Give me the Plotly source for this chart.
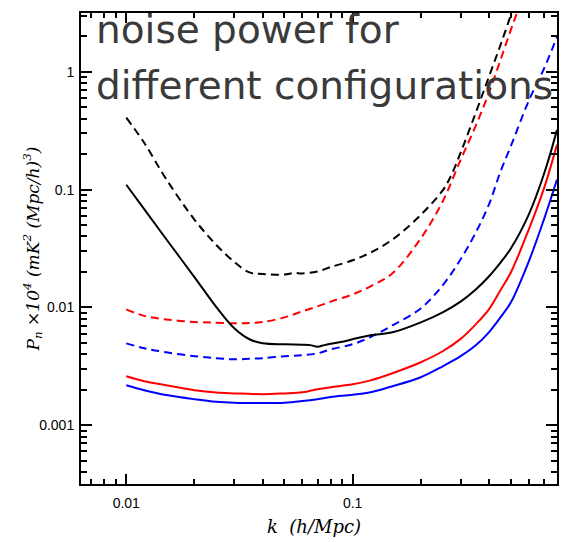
import plotly.graph_objects as go

# ---------------- data ----------------
k_grid = [0.01, 0.012, 0.015, 0.02, 0.025, 0.03, 0.035, 0.04, 0.05, 0.06, 0.07, 0.08,
          0.1, 0.12, 0.15, 0.2, 0.25, 0.3, 0.35, 0.4, 0.45, 0.5, 0.6, 0.7, 0.8]

k_black_dash = [0.01, 0.012, 0.015, 0.02, 0.025, 0.03, 0.035, 0.04, 0.05, 0.055, 0.06, 0.07, 0.08,
                0.1, 0.12, 0.15, 0.2, 0.25, 0.27, 0.3, 0.35, 0.4, 0.45, 0.5, 0.52]
p_black_dash = [0.408, 0.250, 0.123, 0.0557, 0.0339, 0.0243, 0.0198, 0.0192, 0.0190, 0.0196, 0.0194, 0.0202, 0.0220,
                0.0251, 0.0292, 0.0377, 0.0610, 0.0985, 0.127, 0.206, 0.45, 0.907, 1.69, 3.04, 3.9]

k_red_dash = [0.01, 0.012, 0.015, 0.02, 0.025, 0.03, 0.035, 0.04, 0.05, 0.06, 0.07, 0.08,
              0.1, 0.12, 0.15, 0.2, 0.25, 0.3, 0.35, 0.4, 0.45, 0.5, 0.53, 0.55]
p_red_dash = [0.00962, 0.00847, 0.0079, 0.00752, 0.0074, 0.00732, 0.00735, 0.0075, 0.00822, 0.00925, 0.0102, 0.0112,
              0.0129, 0.0151, 0.0195, 0.0385, 0.0794, 0.179, 0.349, 0.664, 1.26, 2.27, 3.1, 3.8]

k_blue_dash = k_grid
p_blue_dash = [0.00495, 0.0045, 0.00416, 0.00385, 0.0037, 0.00362, 0.00366, 0.0037, 0.00385, 0.00392, 0.00407, 0.0044,
               0.00486, 0.0056, 0.00704, 0.0098, 0.0154, 0.0256, 0.0432, 0.0746, 0.142, 0.234, 0.568, 1.06, 1.98]

k_black = [0.01, 0.012, 0.015, 0.02, 0.025, 0.03, 0.035, 0.04, 0.05, 0.06, 0.065, 0.07, 0.075, 0.08, 0.09,
           0.1, 0.12, 0.15, 0.2, 0.25, 0.3, 0.35, 0.4, 0.45, 0.5, 0.6, 0.7, 0.8]
p_black = [0.110, 0.0684, 0.0381, 0.0181, 0.01006, 0.00664, 0.00536, 0.00496, 0.00486, 0.00482, 0.00478, 0.00463,
           0.00478, 0.0049, 0.0051, 0.00536, 0.0058, 0.00614, 0.00746, 0.00908, 0.0112, 0.0142, 0.0183, 0.0240,
           0.0316, 0.0614, 0.135, 0.322]

k_red = [0.01, 0.012, 0.015, 0.02, 0.025, 0.03, 0.04, 0.05, 0.06, 0.07, 0.08,
         0.1, 0.12, 0.15, 0.2, 0.25, 0.3, 0.35, 0.4, 0.45, 0.5, 0.6, 0.7, 0.8]
p_red = [0.0026, 0.00236, 0.00218, 0.00198, 0.00189, 0.00186, 0.00183, 0.00186, 0.0019, 0.00202, 0.0021,
         0.00222, 0.0024, 0.00276, 0.00342, 0.00424, 0.0054, 0.00718, 0.00962, 0.0140, 0.0198, 0.0458, 0.102, 0.241]

k_blue = k_red
p_blue = [0.00218, 0.00198, 0.0018, 0.00166, 0.00158, 0.00155, 0.00154, 0.00155, 0.0016, 0.00166, 0.00173,
          0.00181, 0.0019, 0.00214, 0.00255, 0.00316, 0.00385, 0.00476, 0.00614, 0.00822, 0.0110, 0.0245, 0.0557, 0.122]

x_tickvals = [0.01, 0.1]
x_ticktext = ["0.01", "0.1"]
y_tickvals = [0.001, 0.01, 0.1, 1]
y_ticktext = ["0.001", "0.01", "0.1", "1"]

title_lines = ["noise power for", "different configurations"]
x_title = "<i>k  (h/Mpc)</i>"
y_title = "<i>P<sub>n</sub> ×10<sup>4</sup> (mK<sup>2</sup> (Mpc/h)<sup>3</sup>)</i>"

# ---------------- styling ----------------
DASH = "8px,5px"
series = [
    (k_black_dash, p_black_dash, "black", DASH),
    (k_red_dash, p_red_dash, "#ff0000", DASH),
    (k_blue_dash, p_blue_dash, "#0000ff", DASH),
    (k_black, p_black, "black", "solid"),
    (k_red, p_red, "#ff0000", "solid"),
    (k_blue, p_blue, "#0000ff", "solid"),
]

X_RANGE = [-2.2, -0.097]
Y_RANGE = [-3.5, 0.5]

def minor_vals(lo_exp, hi_exp):
    vals = []
    for e in range(lo_exp, hi_exp + 1):
        for m in range(2, 10):
            vals.append(m * 10.0 ** e)
    return vals

x_minor = [v for v in minor_vals(-3, 0) if 10 ** X_RANGE[0] <= v <= 10 ** X_RANGE[1]]
y_minor = [v for v in minor_vals(-4, 0) if 10 ** Y_RANGE[0] <= v <= 10 ** Y_RANGE[1]]

fig = go.Figure()
for kx, py, col, dash in series:
    fig.add_trace(go.Scatter(x=kx, y=py, mode="lines",
                             line=dict(color=col, width=2, dash=dash, shape="spline", smoothing=1.0),
                             showlegend=False, hoverinfo="skip"))

TICKFONT = dict(family="Liberation Sans, Arial, sans-serif", size=14, color="black")

layout_axes = dict(
    xaxis=dict(type="log", range=X_RANGE, tickmode="array", tickvals=x_tickvals, ticktext=x_ticktext,
               showgrid=False, zeroline=False, showline=True, linecolor="black", linewidth=2, mirror=True,
               ticks="", tickfont=TICKFONT, ticklabelstandoff=5),
    yaxis=dict(type="log", range=Y_RANGE, tickmode="array", tickvals=y_tickvals, ticktext=y_ticktext,
               showgrid=False, zeroline=False, showline=True, linecolor="black", linewidth=2, mirror=True,
               ticks="", tickfont=TICKFONT, ticklabelstandoff=2),
)

# tick-only overlay axes: (index, side_x, side_y, x ticks, y ticks, x len, y len)
overlays = [
    (2, "bottom", "left", x_tickvals, y_tickvals, 10, 11),
    (3, "bottom", "left", x_minor, y_minor, 5, 6),
    (4, "top", "right", x_tickvals, y_tickvals, 10, 11),
    (5, "top", "right", x_minor, y_minor, 5, 6),
]
for idx, sx, sy, xt, yt, xl, yl in overlays:
    layout_axes[f"xaxis{idx}"] = dict(type="log", range=X_RANGE, overlaying="x", anchor=f"y{idx}", side=sx,
                                     tickmode="array", tickvals=xt, showticklabels=False, ticks="inside",
                                     ticklen=xl, tickwidth=1.5, tickcolor="black", showline=False,
                                     showgrid=False, zeroline=False)
    layout_axes[f"yaxis{idx}"] = dict(type="log", range=Y_RANGE, overlaying="y", anchor=f"x{idx}", side=sy,
                                     tickmode="array", tickvals=yt, showticklabels=False, ticks="inside",
                                     ticklen=yl, tickwidth=1.5, tickcolor="black", showline=False,
                                     showgrid=False, zeroline=False)
    fig.add_trace(go.Scatter(x=[], y=[], xaxis=f"x{idx}", yaxis=f"y{idx}", showlegend=False, hoverinfo="skip"))

fig.update_layout(**layout_axes)

TITLE_FONT = dict(family="DejaVu Sans, sans-serif", size=39, color="#3a3a3a")
fig.add_annotation(text=title_lines[0], xref="paper", yref="paper", x=0.028, y=1.0167,
                   xanchor="left", yanchor="top", showarrow=False, font=TITLE_FONT)
fig.add_annotation(text=title_lines[1], xref="paper", yref="paper", x=0.028, y=0.8983,
                   xanchor="left", yanchor="top", showarrow=False, font=TITLE_FONT)
fig.add_annotation(text=x_title, xref="paper", yref="paper", x=0.489, y=-0.091, xanchor="center", yanchor="middle",
                   showarrow=False, font=dict(family="DejaVu Serif, serif", size=18, color="black"))
fig.add_annotation(text=y_title, xref="paper", yref="paper", x=-0.101, y=0.5, xanchor="center", yanchor="middle",
                   textangle=-90, showarrow=False, font=dict(family="DejaVu Serif, serif", size=17, color="black"))

fig.update_layout(width=572, height=542, margin=dict(l=81, r=15, t=11, b=58),
                  plot_bgcolor="white", paper_bgcolor="white")
fig.write_html("out.html")
